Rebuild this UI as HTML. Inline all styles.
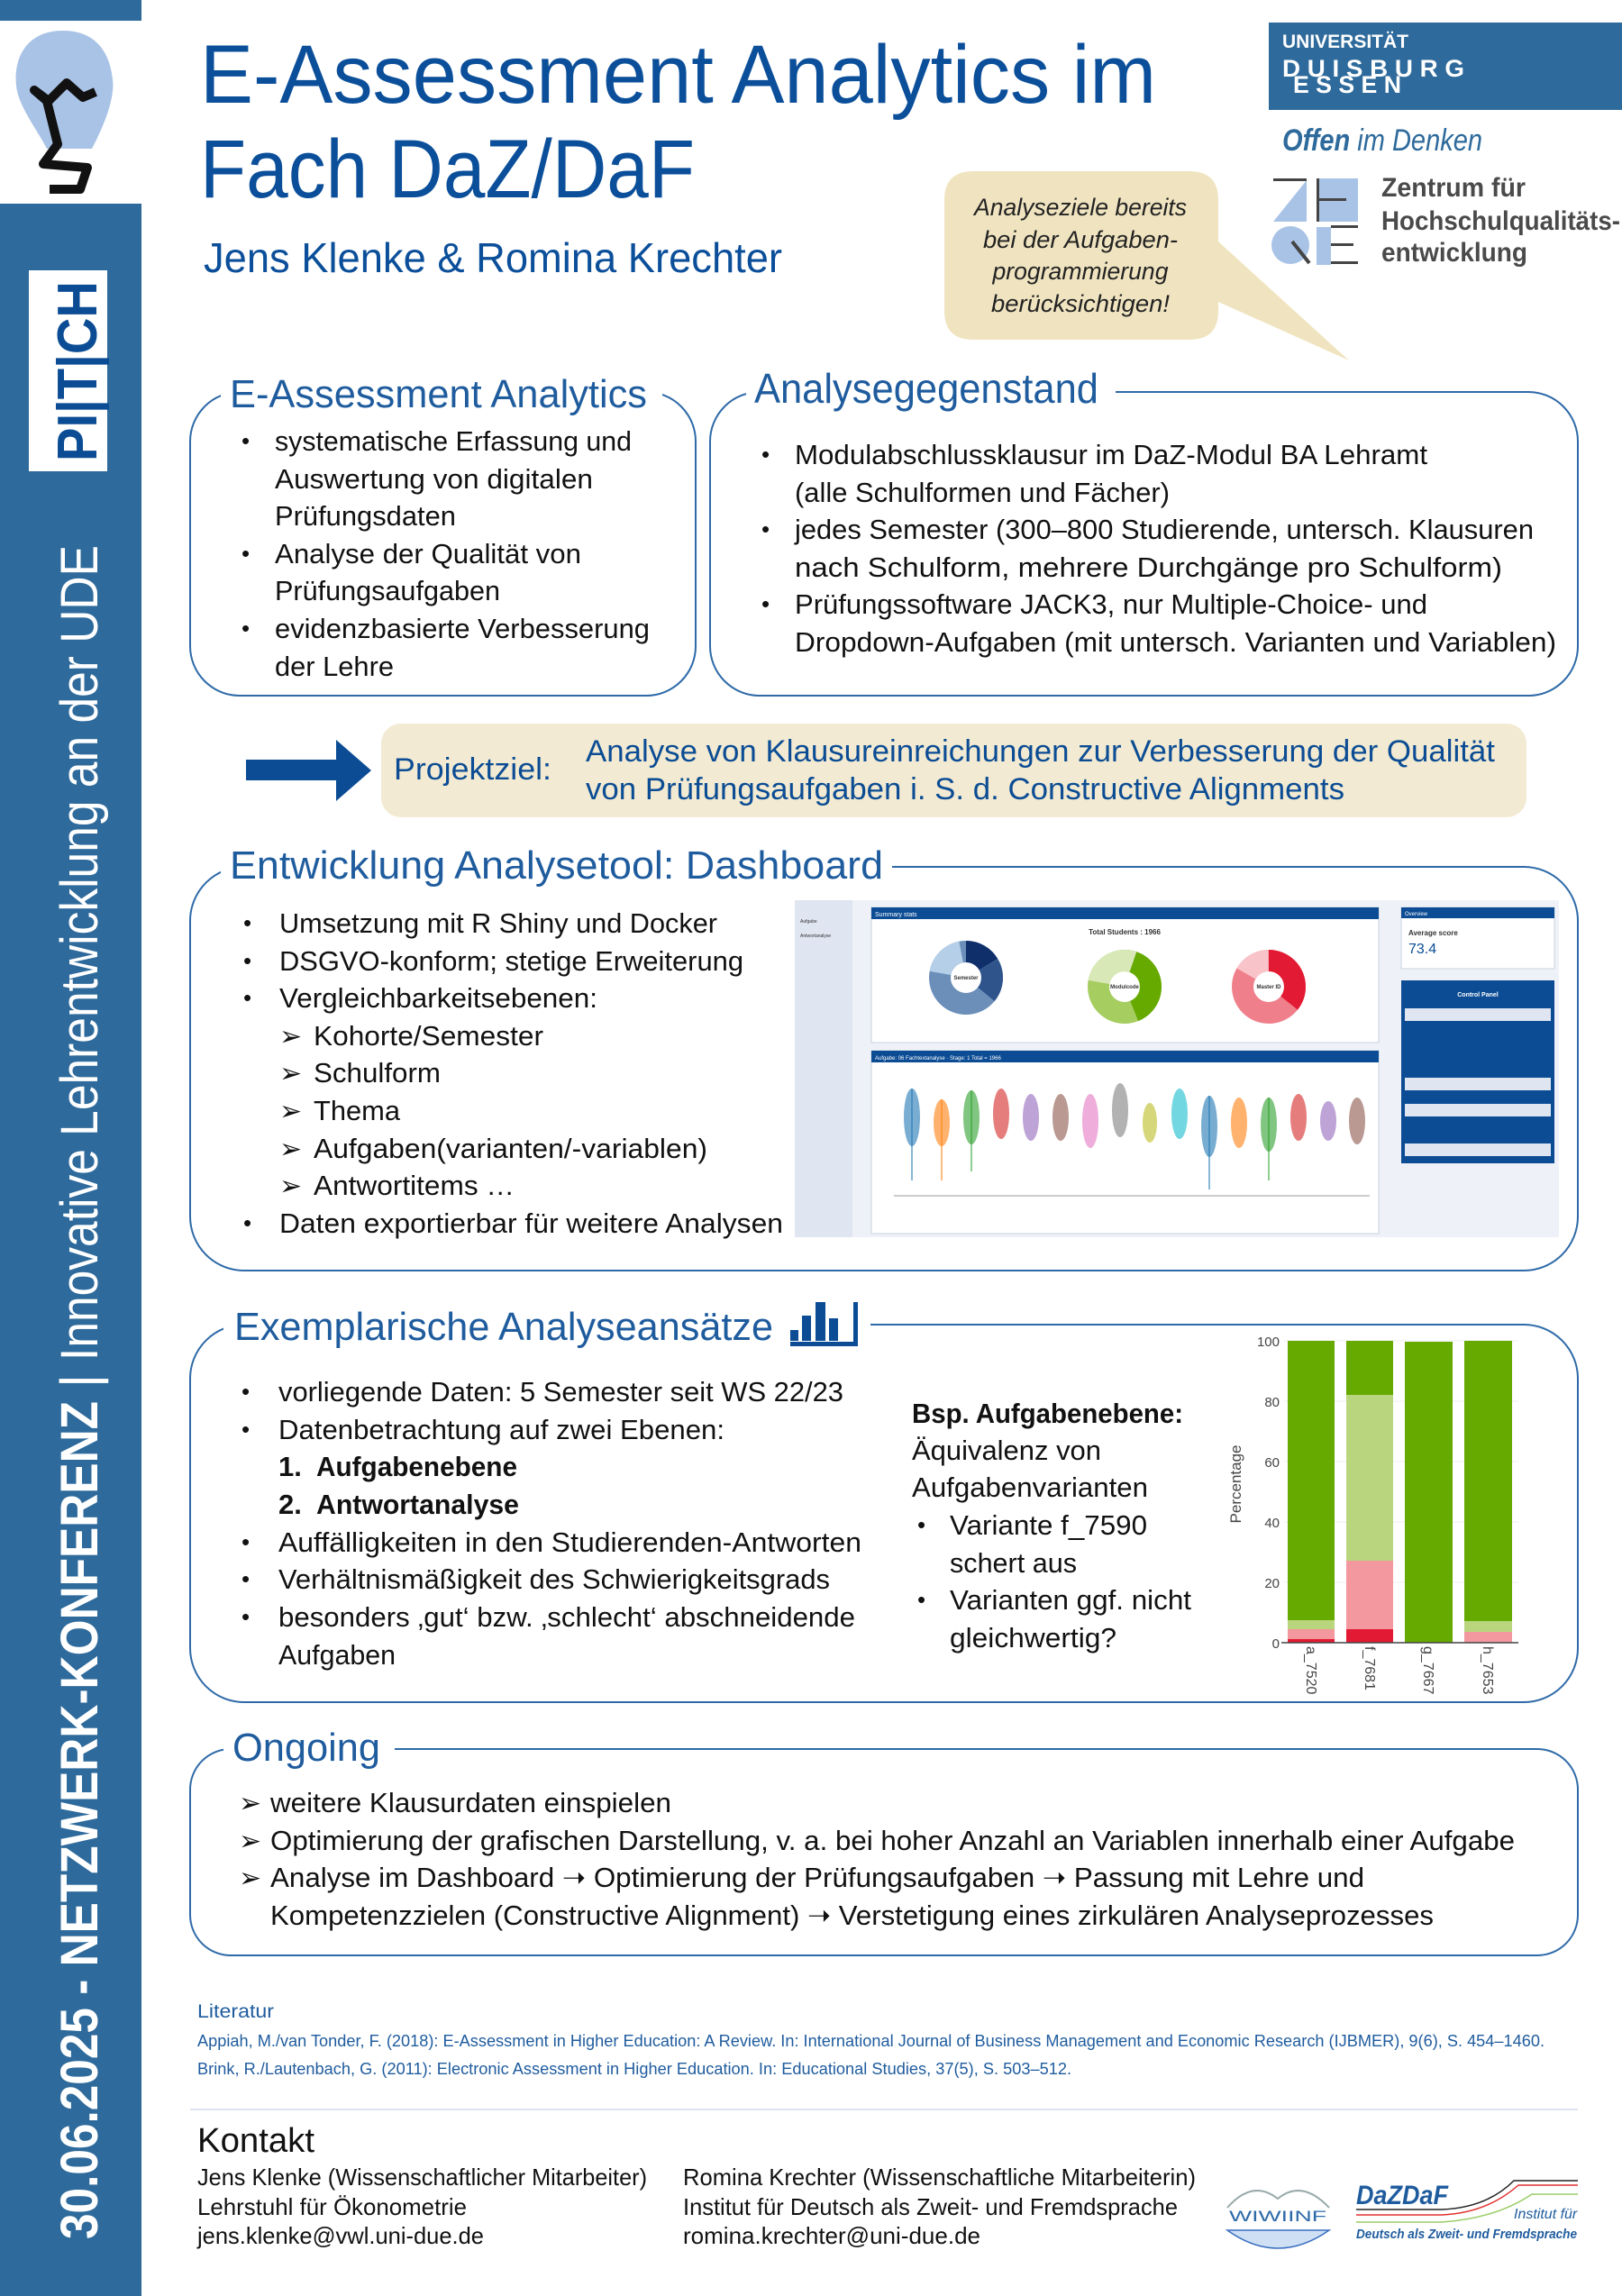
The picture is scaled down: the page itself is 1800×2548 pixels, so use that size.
<!DOCTYPE html>
<html><head><meta charset="utf-8"><style>
html,body{margin:0;padding:0;background:#fff}
svg{display:block}
text{font-family:"Liberation Sans",sans-serif}
</style></head><body>
<svg width="1800" height="2548" viewBox="0 0 1800 2548" xmlns="http://www.w3.org/2000/svg">
<rect width="1800" height="2548" fill="#fff"/>
<!-- sidebar -->
<rect x="0" y="0" width="157" height="23" fill="#2e6a9b"/>
<rect x="0" y="226" width="157" height="2322" fill="#2e6a9b"/>
<path d="M70 34 C28 34 15 66 18 95 C20 117 40 142 52 165 L102 165 C114 142 128 110 125 88 C122 58 106 34 70 34Z" fill="#a9c3e6"/>
<path d="M106 102 L92 108 L74 92 L54 112 L38 100 L52 112 L64 160 L48 182 L97 186 L89 210 L55 210" fill="none" stroke="#111" stroke-width="10" stroke-linejoin="round"/>
<rect x="32" y="300" width="87" height="223" fill="#fff"/>
<g transform="translate(107,512) rotate(-90)"><text x="0" y="0" font-size="62" font-weight="bold" fill="#0b4c94" textLength="200" lengthAdjust="spacingAndGlyphs">PI|T|CH</text></g>
<g transform="translate(108,2485) rotate(-90)">
<text x="0" y="0" font-size="58" font-weight="bold" fill="#fff" textLength="930" lengthAdjust="spacingAndGlyphs">30.06.2025 - NETZWERK-KONFERENZ</text>
<text x="945" y="0" font-size="58" fill="#fff">|</text>
<text x="975" y="0" font-size="58" fill="#fff" textLength="905" lengthAdjust="spacingAndGlyphs">Innovative Lehrentwicklung an der UDE</text>
</g>
<!-- title -->
<text x="222" y="114" font-size="92" fill="#0b4f9a" textLength="1061" lengthAdjust="spacingAndGlyphs">E-Assessment Analytics im</text>
<text x="222" y="219" font-size="92" fill="#0b4f9a" textLength="549" lengthAdjust="spacingAndGlyphs">Fach DaZ/DaF</text>
<text x="226" y="302" font-size="46" fill="#0b4f9a" textLength="642" lengthAdjust="spacingAndGlyphs">Jens Klenke &amp; Romina Krechter</text>
<!-- UDE logo -->
<rect x="1408" y="25" width="392" height="97" fill="#2e6a9b"/>
<text x="1423" y="53" font-size="21" font-weight="bold" fill="#fff" textLength="140" lengthAdjust="spacingAndGlyphs">UNIVERSITÄT</text>
<text x="1423" y="85" font-size="27" font-weight="bold" fill="#fff" textLength="202" lengthAdjust="spacingAndGlyphs">D U I S B U R G</text>
<text x="1435" y="103" font-size="27" font-weight="bold" fill="#fff" textLength="120" lengthAdjust="spacingAndGlyphs">E S S E N</text>
<text x="1423" y="167" font-size="34" font-style="italic" fill="#2e6a9b" textLength="222" lengthAdjust="spacingAndGlyphs"><tspan font-weight="bold">Offen</tspan> im Denken</text>
<path d="M1413 246 L1450 200 L1450 246Z" fill="#a9c3e6"/>
<rect x="1413" y="198" width="37" height="3" fill="#444"/>
<rect x="1461" y="198" width="46" height="48" fill="#a9c3e6"/>
<rect x="1461" y="198" width="3" height="48" fill="#444"/><rect x="1464" y="220" width="30" height="3" fill="#444"/>
<circle cx="1432" cy="272" r="21" fill="#a9c3e6"/>
<path d="M1434 268 L1453 292" stroke="#444" stroke-width="4"/>
<rect x="1461" y="252" width="16" height="42" fill="#a9c3e6"/>
<rect x="1477" y="250" width="30" height="3" fill="#444"/><rect x="1477" y="270" width="25" height="3" fill="#444"/><rect x="1477" y="290" width="30" height="3" fill="#444"/>
<text x="1533" y="218" font-size="30" font-weight="bold" fill="#4a4a4a" textLength="160" lengthAdjust="spacingAndGlyphs">Zentrum für</text>
<text x="1533" y="255" font-size="30" font-weight="bold" fill="#4a4a4a" textLength="265" lengthAdjust="spacingAndGlyphs">Hochschulqualitäts-</text>
<text x="1533" y="290" font-size="30" font-weight="bold" fill="#4a4a4a" textLength="162" lengthAdjust="spacingAndGlyphs">entwicklung</text>
<!-- speech bubble -->
<path d="M1080 190 L1320 190 Q1352 190 1352 222 L1352 268 L1497 400 L1352 335 L1352 345 Q1352 377 1320 377 L1080 377 Q1048 377 1048 345 L1048 222 Q1048 190 1080 190Z" fill="#f0e4c0"/>
<g font-size="27" font-style="italic" fill="#222" text-anchor="middle">
<text x="1199" y="239" textLength="236" lengthAdjust="spacingAndGlyphs">Analyseziele bereits</text>
<text x="1199" y="275" textLength="216" lengthAdjust="spacingAndGlyphs">bei der Aufgaben-</text>
<text x="1199" y="310" textLength="195" lengthAdjust="spacingAndGlyphs">programmierung</text>
<text x="1199" y="346" textLength="198" lengthAdjust="spacingAndGlyphs">berücksichtigen!</text>
</g>
<!-- boxes -->
<g fill="none" stroke="#2e6aa8" stroke-width="2">
<rect x="211" y="435" width="561" height="337" rx="55"/>
<rect x="788" y="435" width="963" height="337" rx="55"/>
<rect x="211" y="962" width="1540" height="448" rx="60"/>
<rect x="211" y="1470" width="1540" height="419" rx="60"/>
<rect x="211" y="1941" width="1540" height="229" rx="45"/>
</g>
<g fill="#fff">
<rect x="245" y="410" width="490" height="50"/>
<rect x="828" y="400" width="410" height="60"/>
<rect x="245" y="930" width="745" height="60"/>
<rect x="248" y="1435" width="718" height="60"/>
<rect x="248" y="1910" width="190" height="60"/>
</g>
<g fill="#1f5c9e">
<text x="255" y="452" font-size="44" textLength="463" lengthAdjust="spacingAndGlyphs">E-Assessment Analytics</text>
<text x="837" y="447" font-size="46" textLength="382" lengthAdjust="spacingAndGlyphs">Analysegegenstand</text>
<text x="255" y="975" font-size="44" textLength="725" lengthAdjust="spacingAndGlyphs">Entwicklung Analysetool: Dashboard</text>
<text x="260" y="1487" font-size="44" textLength="598" lengthAdjust="spacingAndGlyphs">Exemplarische Analyseansätze</text>
<text x="258" y="1954" font-size="44" textLength="164" lengthAdjust="spacingAndGlyphs">Ongoing</text>
</g>
<!-- bar icon -->
<g fill="#0b4c94"><rect x="877" y="1476" width="9" height="12"/><rect x="890" y="1460" width="10" height="28"/><rect x="905" y="1445" width="11" height="43"/><rect x="920" y="1463" width="10" height="25"/><rect x="947" y="1445" width="5" height="49"/><rect x="877" y="1489" width="75" height="5"/></g>
<!-- box1 text -->
<g font-size="31" fill="#111">
<g font-size="26"><text x="268" y="498">•</text><text x="268" y="623">•</text><text x="268" y="706">•</text>
<text x="845" y="513">•</text><text x="845" y="596">•</text><text x="845" y="679">•</text></g>
<text x="305" y="500" textLength="396" lengthAdjust="spacingAndGlyphs">systematische Erfassung und</text>
<text x="305" y="542" textLength="353" lengthAdjust="spacingAndGlyphs">Auswertung von digitalen</text>
<text x="305" y="583" textLength="201" lengthAdjust="spacingAndGlyphs">Prüfungsdaten</text>
<text x="305" y="625" textLength="340" lengthAdjust="spacingAndGlyphs">Analyse der Qualität von</text>
<text x="305" y="666" textLength="250" lengthAdjust="spacingAndGlyphs">Prüfungsaufgaben</text>
<text x="305" y="708" textLength="416" lengthAdjust="spacingAndGlyphs">evidenzbasierte Verbesserung</text>
<text x="305" y="750" textLength="132" lengthAdjust="spacingAndGlyphs">der Lehre</text>
<text x="882" y="515" textLength="702" lengthAdjust="spacingAndGlyphs">Modulabschlussklausur im DaZ-Modul BA Lehramt</text>
<text x="882" y="557" textLength="416" lengthAdjust="spacingAndGlyphs">(alle Schulformen und Fächer)</text>
<text x="882" y="598" textLength="820" lengthAdjust="spacingAndGlyphs">jedes Semester (300–800 Studierende, untersch. Klausuren</text>
<text x="882" y="640" textLength="785" lengthAdjust="spacingAndGlyphs">nach Schulform, mehrere Durchgänge pro Schulform)</text>
<text x="882" y="681" textLength="702" lengthAdjust="spacingAndGlyphs">Prüfungssoftware JACK3, nur Multiple-Choice- und</text>
<text x="882" y="723" textLength="845" lengthAdjust="spacingAndGlyphs">Dropdown-Aufgaben (mit untersch. Varianten und Variablen)</text>
</g>
<!-- Projektziel -->
<path d="M273 843 L373 843 L373 821 L412 855 L373 889 L373 866 L273 866Z" fill="#0b4c94"/>
<rect x="423" y="803" width="1271" height="104" rx="22" fill="#f2ead2"/>
<g fill="#0b4c94" font-size="34">
<text x="437" y="865" textLength="175" lengthAdjust="spacingAndGlyphs">Projektziel:</text>
<text x="650" y="845" textLength="1009" lengthAdjust="spacingAndGlyphs">Analyse von Klausureinreichungen zur Verbesserung der Qualität</text>
<text x="650" y="887" textLength="842" lengthAdjust="spacingAndGlyphs">von Prüfungsaufgaben i. S. d. Constructive Alignments</text>
</g>
<!-- Dashboard list -->
<g font-size="31" fill="#111">
<g font-size="26"><text x="270" y="1033">•</text><text x="270" y="1075">•</text><text x="270" y="1116">•</text><text x="270" y="1366">•</text></g>
<text x="310" y="1035" textLength="486" lengthAdjust="spacingAndGlyphs">Umsetzung mit R Shiny und Docker</text>
<text x="310" y="1077" textLength="515" lengthAdjust="spacingAndGlyphs">DSGVO-konform; stetige Erweiterung</text>
<text x="310" y="1118" textLength="353" lengthAdjust="spacingAndGlyphs">Vergleichbarkeitsebenen:</text>
<g font-family="DejaVu Sans" font-size="30"><text x="310" y="1160">➢</text><text x="310" y="1201">➢</text><text x="310" y="1243">➢</text><text x="310" y="1285">➢</text><text x="310" y="1326">➢</text></g>
<text x="348" y="1160" textLength="255" lengthAdjust="spacingAndGlyphs">Kohorte/Semester</text>
<text x="348" y="1201" textLength="141" lengthAdjust="spacingAndGlyphs">Schulform</text>
<text x="348" y="1243" textLength="96" lengthAdjust="spacingAndGlyphs">Thema</text>
<text x="348" y="1285" textLength="437" lengthAdjust="spacingAndGlyphs">Aufgaben(varianten/-variablen)</text>
<text x="348" y="1326" textLength="223" lengthAdjust="spacingAndGlyphs">Antwortitems …</text>
<text x="310" y="1368" textLength="559" lengthAdjust="spacingAndGlyphs">Daten exportierbar für weitere Analysen</text>
</g>
<!-- Dashboard screenshot -->
<rect x="882" y="999" width="848" height="374" fill="#eef1f7"/>
<rect x="882" y="999" width="64" height="374" fill="#dfe5f1"/>
<text x="888" y="1024" font-size="5" fill="#333">Aufgabe</text>
<text x="888" y="1040" font-size="5" fill="#333">Antwortanalyse</text>
<rect x="967" y="1007" width="563" height="150" fill="#fff" stroke="#c8d2e2"/>
<rect x="967" y="1007" width="563" height="13" fill="#0b4c94"/>
<text x="971" y="1017" font-size="7" fill="#fff">Summary stats</text>
<text x="1248" y="1037" font-size="8" font-weight="bold" fill="#333" text-anchor="middle">Total Students : 1966</text>
<g fill="none" stroke-width="24">
<circle cx="1072" cy="1085" r="29" stroke="#6b8fb9"/>
<circle cx="1072" cy="1085" r="29" stroke="#0e2f6a" stroke-dasharray="30 200" transform="rotate(-90 1072 1085)"/>
<circle cx="1072" cy="1085" r="29" stroke="#2f548c" stroke-dasharray="35 200" transform="rotate(-30 1072 1085)"/>
<circle cx="1072" cy="1085" r="29" stroke="#b4cfe7" stroke-dasharray="35 200" transform="rotate(190 1072 1085)"/>
<circle cx="1248" cy="1095" r="29" stroke="#a6cd60"/>
<circle cx="1248" cy="1095" r="29" stroke="#66aa00" stroke-dasharray="80 200" transform="rotate(-90 1248 1095)"/>
<circle cx="1248" cy="1095" r="29" stroke="#d8e8b6" stroke-dasharray="50 200" transform="rotate(190 1248 1095)"/>
<circle cx="1408" cy="1095" r="29" stroke="#ef7f8b"/>
<circle cx="1408" cy="1095" r="29" stroke="#e31a33" stroke-dasharray="65 200" transform="rotate(-90 1408 1095)"/>
<circle cx="1408" cy="1095" r="29" stroke="#f9c4c9" stroke-dasharray="30 200" transform="rotate(210 1408 1095)"/>
</g>
<g font-size="6" font-weight="bold" fill="#333" text-anchor="middle"><text x="1072" y="1087">Semester</text><text x="1248" y="1097">Modulcode</text><text x="1408" y="1097">Master ID</text></g>
<rect x="967" y="1166" width="563" height="203" fill="#fff" stroke="#c8d2e2"/>
<rect x="967" y="1166" width="563" height="13" fill="#0b4c94"/>
<text x="971" y="1176" font-size="6" fill="#fff">Aufgabe: 06 Fachtextanalyse · Stage: 1 Total = 1966</text>
<line x1="992" y1="1327" x2="1520" y2="1327" stroke="#999"/>
<g opacity="0.6">
<ellipse cx="1012" cy="1240" rx="9" ry="32" fill="#1f77b4"/><ellipse cx="1045" cy="1246" rx="9" ry="26" fill="#ff7f0e"/><ellipse cx="1078" cy="1240" rx="9" ry="30" fill="#2ca02c"/><ellipse cx="1111" cy="1236" rx="9" ry="28" fill="#d62728"/><ellipse cx="1144" cy="1240" rx="9" ry="26" fill="#9467bd"/><ellipse cx="1177" cy="1240" rx="9" ry="26" fill="#8c564b"/><ellipse cx="1210" cy="1244" rx="9" ry="30" fill="#e377c2"/><ellipse cx="1243" cy="1232" rx="9" ry="30" fill="#7f7f7f"/><ellipse cx="1276" cy="1246" rx="8" ry="22" fill="#bcbd22"/><ellipse cx="1309" cy="1236" rx="9" ry="28" fill="#17becf"/><ellipse cx="1342" cy="1250" rx="9" ry="34" fill="#1f77b4"/><ellipse cx="1375" cy="1246" rx="9" ry="28" fill="#ff7f0e"/><ellipse cx="1408" cy="1248" rx="9" ry="30" fill="#2ca02c"/><ellipse cx="1441" cy="1240" rx="9" ry="26" fill="#d62728"/><ellipse cx="1474" cy="1244" rx="9" ry="22" fill="#9467bd"/><ellipse cx="1506" cy="1244" rx="9" ry="26" fill="#8c564b"/>
</g>
<g stroke-width="1.5" opacity="0.7"><line x1="1012" y1="1208" x2="1012" y2="1310" stroke="#1f77b4"/><line x1="1045" y1="1220" x2="1045" y2="1310" stroke="#ff7f0e"/><line x1="1078" y1="1210" x2="1078" y2="1300" stroke="#2ca02c"/><line x1="1342" y1="1216" x2="1342" y2="1320" stroke="#1f77b4"/><line x1="1408" y1="1218" x2="1408" y2="1310" stroke="#2ca02c"/></g>
<rect x="1555" y="1007" width="170" height="68" fill="#fff" stroke="#c8d2e2"/>
<rect x="1555" y="1007" width="170" height="12" fill="#0b4c94"/>
<text x="1559" y="1016" font-size="6" fill="#fff">Overview</text>
<text x="1563" y="1038" font-size="8" font-weight="bold" fill="#333">Average score</text>
<text x="1563" y="1058" font-size="16" fill="#0b4c94">73.4</text>
<rect x="1555" y="1088" width="170" height="203" fill="#0b4c94"/>
<text x="1640" y="1106" font-size="7" font-weight="bold" fill="#fff" text-anchor="middle">Control Panel</text>
<rect x="1559" y="1119" width="162" height="14" fill="#dfe5f1"/><rect x="1559" y="1196" width="162" height="14" fill="#dfe5f1"/><rect x="1559" y="1225" width="162" height="14" fill="#dfe5f1"/><rect x="1559" y="1269" width="162" height="14" fill="#dfe5f1"/>
<!-- Exemplarische text -->
<g font-size="31" fill="#111">
<g font-size="26"><text x="268" y="1553">•</text><text x="268" y="1595">•</text><text x="268" y="1720">•</text><text x="268" y="1761">•</text><text x="268" y="1803">•</text>
<text x="1018" y="1701">•</text><text x="1018" y="1784">•</text></g>
<text x="309" y="1555" textLength="627" lengthAdjust="spacingAndGlyphs">vorliegende Daten: 5 Semester seit WS 22/23</text>
<text x="309" y="1597" textLength="495" lengthAdjust="spacingAndGlyphs">Datenbetrachtung auf zwei Ebenen:</text>
<text x="309" y="1638" font-weight="bold">1.</text><text x="351" y="1638" font-weight="bold" textLength="223" lengthAdjust="spacingAndGlyphs">Aufgabenebene</text>
<text x="309" y="1680" font-weight="bold">2.</text><text x="351" y="1680" font-weight="bold" textLength="225" lengthAdjust="spacingAndGlyphs">Antwortanalyse</text>
<text x="309" y="1722" textLength="647" lengthAdjust="spacingAndGlyphs">Auffälligkeiten in den Studierenden-Antworten</text>
<text x="309" y="1763" textLength="612" lengthAdjust="spacingAndGlyphs">Verhältnismäßigkeit des Schwierigkeitsgrads</text>
<text x="309" y="1805" textLength="640" lengthAdjust="spacingAndGlyphs">besonders ‚gut‘ bzw. ‚schlecht‘ abschneidende</text>
<text x="309" y="1847" textLength="130" lengthAdjust="spacingAndGlyphs">Aufgaben</text>
<text x="1012" y="1579" font-weight="bold" textLength="301" lengthAdjust="spacingAndGlyphs">Bsp. Aufgabenebene:</text>
<text x="1012" y="1620" textLength="210" lengthAdjust="spacingAndGlyphs">Äquivalenz von</text>
<text x="1012" y="1661" textLength="262" lengthAdjust="spacingAndGlyphs">Aufgabenvarianten</text>
<text x="1054" y="1703" textLength="219" lengthAdjust="spacingAndGlyphs">Variante f_7590</text>
<text x="1054" y="1745" textLength="141" lengthAdjust="spacingAndGlyphs">schert aus</text>
<text x="1054" y="1786" textLength="268" lengthAdjust="spacingAndGlyphs">Varianten ggf. nicht</text>
<text x="1054" y="1828" textLength="185" lengthAdjust="spacingAndGlyphs">gleichwertig?</text>
</g>
<!-- bar chart -->
<rect x="1355" y="1472" width="335" height="412" fill="#fff"/>
<g stroke="#eee"><line x1="1425" y1="1488" x2="1685" y2="1488"/><line x1="1425" y1="1555" x2="1685" y2="1555"/><line x1="1425" y1="1622" x2="1685" y2="1622"/><line x1="1425" y1="1689" x2="1685" y2="1689"/><line x1="1425" y1="1756" x2="1685" y2="1756"/></g>
<rect x="1429" y="1488" width="52" height="310" fill="#66aa00"/><rect x="1429" y="1798" width="52" height="10" fill="#b9d67f"/><rect x="1429" y="1808" width="52" height="11" fill="#f4989f"/><rect x="1429" y="1819" width="52" height="4" fill="#e31a33"/>
<rect x="1494" y="1488" width="52" height="60" fill="#66aa00"/><rect x="1494" y="1548" width="52" height="184" fill="#b9d67f"/><rect x="1494" y="1732" width="52" height="76" fill="#f4989f"/><rect x="1494" y="1808" width="52" height="15" fill="#e31a33"/>
<rect x="1559" y="1489" width="53" height="334" fill="#66aa00"/>
<rect x="1625" y="1488" width="53" height="311" fill="#66aa00"/><rect x="1625" y="1799" width="53" height="12" fill="#b9d67f"/><rect x="1625" y="1811" width="53" height="12" fill="#f4989f"/>
<line x1="1422" y1="1823" x2="1685" y2="1823" stroke="#444" stroke-width="1.5"/>
<g font-size="15" fill="#444" text-anchor="end">
<text x="1420" y="1494">100</text><text x="1420" y="1561">80</text><text x="1420" y="1628">60</text><text x="1420" y="1695">40</text><text x="1420" y="1762">20</text><text x="1420" y="1829">0</text>
</g>
<text transform="translate(1377,1647) rotate(-90)" font-size="17" fill="#444" text-anchor="middle">Percentage</text>
<g font-size="16" fill="#444">
<text transform="translate(1450,1827) rotate(90)">a_7520</text>
<text transform="translate(1515,1827) rotate(90)">f_7681</text>
<text transform="translate(1580,1827) rotate(90)">g_7667</text>
<text transform="translate(1646,1827) rotate(90)">h_7653</text>
</g>
<!-- Ongoing -->
<g font-size="31" fill="#111">
<g font-family="DejaVu Sans" font-size="30"><text x="265" y="2011">➢</text><text x="265" y="2053">➢</text><text x="265" y="2094">➢</text></g>
<text x="300" y="2011" textLength="445" lengthAdjust="spacingAndGlyphs">weitere Klausurdaten einspielen</text>
<text x="300" y="2053" textLength="1381" lengthAdjust="spacingAndGlyphs">Optimierung der grafischen Darstellung, v. a. bei hoher Anzahl an Variablen innerhalb einer Aufgabe</text>
<text x="300" y="2094" textLength="1214" lengthAdjust="spacingAndGlyphs">Analyse im Dashboard ➝ Optimierung der Prüfungsaufgaben ➝ Passung mit Lehre und</text>
<text x="300" y="2136" textLength="1291" lengthAdjust="spacingAndGlyphs">Kompetenzzielen (Constructive Alignment) ➝ Verstetigung eines zirkulären Analyseprozesses</text>
</g>
<!-- Literatur -->
<g fill="#1f5c9e">
<text x="219" y="2239" font-size="21" textLength="85" lengthAdjust="spacingAndGlyphs">Literatur</text>
<text x="219" y="2271" font-size="18" textLength="1495" lengthAdjust="spacingAndGlyphs">Appiah, M./van Tonder, F. (2018): E-Assessment in Higher Education: A Review. In: International Journal of Business Management and Economic Research (IJBMER), 9(6), S. 454–1460.</text>
<text x="219" y="2302" font-size="18" textLength="970" lengthAdjust="spacingAndGlyphs">Brink, R./Lautenbach, G. (2011): Electronic Assessment in Higher Education. In: Educational Studies, 37(5), S. 503–512.</text>
</g>
<line x1="211" y1="2341" x2="1751" y2="2341" stroke="#dde4f0" stroke-width="2"/>
<g fill="#111">
<text x="219" y="2388" font-size="38" textLength="130" lengthAdjust="spacingAndGlyphs">Kontakt</text>
<g font-size="26">
<text x="219" y="2425" textLength="499" lengthAdjust="spacingAndGlyphs">Jens Klenke (Wissenschaftlicher Mitarbeiter)</text>
<text x="219" y="2458" textLength="299" lengthAdjust="spacingAndGlyphs">Lehrstuhl für Ökonometrie</text>
<text x="219" y="2490" textLength="318" lengthAdjust="spacingAndGlyphs">jens.klenke@vwl.uni-due.de</text>
<text x="758" y="2425" textLength="569" lengthAdjust="spacingAndGlyphs">Romina Krechter (Wissenschaftliche Mitarbeiterin)</text>
<text x="758" y="2458" textLength="549" lengthAdjust="spacingAndGlyphs">Institut für Deutsch als Zweit- und Fremdsprache</text>
<text x="758" y="2490" textLength="330" lengthAdjust="spacingAndGlyphs">romina.krechter@uni-due.de</text>
</g></g>
<!-- logos -->
<path d="M1362 2450 Q1390 2418 1418 2440 Q1445 2418 1475 2450" fill="none" stroke="#9aa" stroke-width="2"/>
<text x="1364" y="2465" font-size="17" fill="#2e6aa8" textLength="108" lengthAdjust="spacingAndGlyphs">WIWIINF</text>
<path d="M1362 2475 Q1418 2515 1475 2475 Z" fill="#cfe0f5" stroke="#3a6fc0" stroke-width="1.5"/>
<text x="1505" y="2446" font-size="30" font-weight="bold" font-style="italic" fill="#1f5c9e" textLength="102" lengthAdjust="spacingAndGlyphs">DaZDaF</text>
<path d="M1505 2452 L1600 2452 Q1650 2450 1680 2420 L1751 2420" fill="none" stroke="#222" stroke-width="1.5"/>
<path d="M1505 2458 L1600 2458 Q1650 2456 1685 2425 L1751 2425" fill="none" stroke="#e03030" stroke-width="1.5"/>
<path d="M1505 2466 L1600 2466 Q1660 2462 1700 2435 L1751 2435" fill="none" stroke="#9c6" stroke-width="1.5"/>
<text x="1680" y="2462" font-size="16" font-style="italic" fill="#1f5c9e">Institut für</text>
<text x="1505" y="2484" font-size="15" font-weight="bold" font-style="italic" fill="#1f5c9e" textLength="245" lengthAdjust="spacingAndGlyphs">Deutsch als Zweit- und Fremdsprache</text>
</svg>
</body></html>
